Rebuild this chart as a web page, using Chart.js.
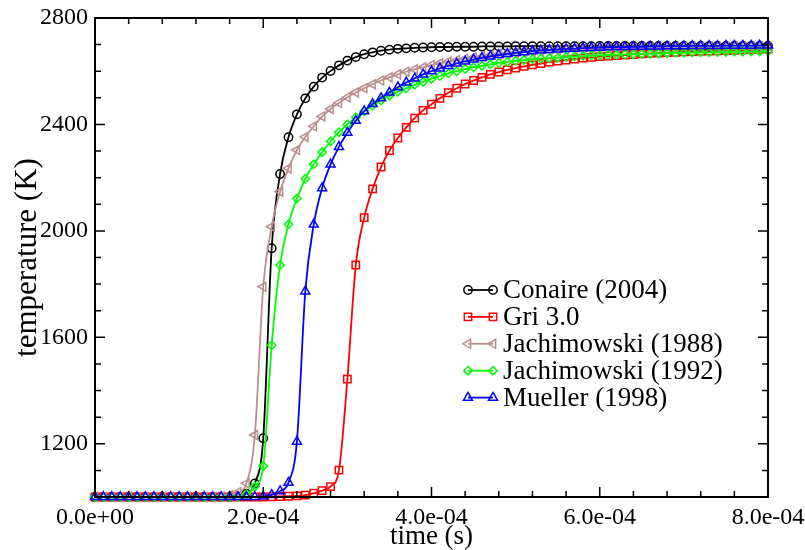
<!DOCTYPE html>
<html>
<head>
<meta charset="utf-8">
<script src="https://cdn.jsdelivr.net/npm/chart.js@4.4.1/dist/chart.umd.min.js"></script>
<style>
  html, body { margin: 0; padding: 0; background: #ffffff; }
  #wrap { width: 805px; height: 550px; }
</style>
</head>
<body>
<div id="wrap"><canvas id="chart" width="805" height="550"></canvas></div>
<script>
// Sample times in microseconds (one marker every 10 us)
const timeMicroseconds = [
  0, 10, 20, 30, 40, 50, 60, 70, 80, 90,
  100, 110, 120, 130, 140, 150, 160, 170, 180, 190,
  200, 210, 220, 230, 240, 250, 260, 270, 280, 290,
  300, 310, 320, 330, 340, 350, 360, 370, 380, 390,
  400, 410, 420, 430, 440, 450, 460, 470, 480, 490,
  500, 510, 520, 530, 540, 550, 560, 570, 580, 590,
  600, 610, 620, 630, 640, 650, 660, 670, 680, 690,
  700, 710, 720, 730, 740, 750, 760, 770, 780, 790,
  800
];

// Temperature (K) for each mechanism
const conaire2004 = [
  1000, 1000, 1000, 1000, 1000, 1000, 1000, 1000, 1000, 1000,
  1000, 1000, 1000, 1000, 1000, 1000, 1000, 1003, 1012, 1051,
  1221, 1935, 2214, 2352, 2438, 2498, 2542, 2576, 2601, 2622,
  2640, 2653, 2664, 2671, 2677, 2681, 2684, 2686, 2688, 2689,
  2690, 2691, 2691, 2692, 2692, 2692, 2693, 2693, 2693, 2693,
  2694, 2694, 2694, 2694, 2694, 2694, 2694, 2694, 2694, 2694,
  2695, 2695, 2695, 2695, 2695, 2695, 2695, 2695, 2695, 2695,
  2695, 2695, 2695, 2695, 2695, 2695, 2695, 2695, 2695, 2695,
  2695
];
const gri30 = [
  1000, 1000, 1000, 1000, 1000, 1000, 1000, 1000, 1000, 1000,
  1000, 1000, 1000, 1000, 1000, 1000, 1000, 1000, 1000, 1000,
  1000, 1001, 1002, 1003, 1004, 1007, 1014, 1024, 1039, 1101,
  1443, 1872, 2050, 2158, 2240, 2302, 2349, 2389, 2424, 2453,
  2476, 2498, 2519, 2536, 2552, 2565, 2577, 2588, 2597, 2605,
  2612, 2618, 2624, 2629, 2634, 2638, 2642, 2646, 2649, 2652,
  2655, 2657, 2659, 2661, 2663, 2665, 2667, 2668, 2670, 2671,
  2673, 2674, 2675, 2676, 2677, 2678, 2679, 2680, 2681, 2682,
  2683
];
const jachimowski1988 = [
  1000, 1000, 1000, 1000, 1000, 1000, 1000, 1000, 1000, 1000,
  1000, 1000, 1000, 1000, 1000, 1002, 1006, 1018, 1051, 1233,
  1790, 2016, 2147, 2235, 2304, 2353, 2393, 2430, 2458, 2481,
  2502, 2520, 2536, 2551, 2565, 2577, 2588, 2598, 2607, 2615,
  2623, 2630, 2636, 2642, 2647, 2652, 2656, 2660, 2664, 2667,
  2670, 2672, 2674, 2676, 2678, 2680, 2681, 2682, 2683, 2684,
  2685, 2686, 2687, 2687, 2688, 2688, 2689, 2689, 2690, 2690,
  2691, 2691, 2691, 2692, 2692, 2692, 2693, 2693, 2693, 2694,
  2694
];
const jachimowski1992 = [
  1000, 1000, 1000, 1000, 1000, 1000, 1000, 1000, 1000, 1000,
  1000, 1000, 1000, 1000, 1000, 1000, 1000, 1000, 1010, 1039,
  1116, 1570, 1872, 2025, 2122, 2196, 2250, 2296, 2337, 2371,
  2400, 2427, 2450, 2471, 2490, 2508, 2523, 2536, 2549, 2560,
  2572, 2582, 2592, 2600, 2608, 2615, 2621, 2626, 2631, 2635,
  2639, 2642, 2645, 2647, 2649, 2651, 2653, 2655, 2657, 2659,
  2660, 2661, 2662, 2663, 2664, 2665, 2666, 2667, 2668, 2669,
  2669, 2670, 2671, 2671, 2672, 2672, 2673, 2673, 2674, 2674,
  2675
];
const mueller1998 = [
  1000, 1000, 1000, 1000, 1000, 1000, 1000, 1000, 1000, 1000,
  1000, 1000, 1000, 1000, 1000, 1000, 1000, 1000, 1000, 1000,
  1002, 1008, 1022, 1054, 1208, 1773, 2024, 2161, 2250, 2316,
  2369, 2414, 2450, 2477, 2499, 2520, 2540, 2558, 2573, 2588,
  2600, 2611, 2620, 2629, 2637, 2644, 2650, 2656, 2661, 2665,
  2669, 2672, 2675, 2678, 2680, 2682, 2684, 2685, 2687, 2688,
  2689, 2690, 2691, 2691, 2692, 2692, 2693, 2693, 2694, 2694,
  2694, 2695, 2695, 2695, 2695, 2696, 2696, 2696, 2696, 2697,
  2697
];

const seriesNames = ['Conaire (2004)', 'Gri 3.0', 'Jachimowski (1988)', 'Jachimowski (1992)', 'Mueller (1998)'];

// Axis tick values
const xMajorTicks = [0, 2e-4, 4e-4, 6e-4, 8e-4];
const yMajorTicks = [1200, 1600, 2000, 2400, 2800];
const xMinorStep = 4e-5;
const yMinorStep = 100;

const FONT = '"Liberation Serif", "Times New Roman", serif';

const styles = [
  { color: '#000000', pointStyle: 'circle',   rotation: 0,   radius: 4.2 },
  { color: '#ff0000', pointStyle: 'rect',     rotation: 0,   radius: 5.2 },
  { color: '#bc8f8f', pointStyle: 'triangle', rotation: 270, radius: 5.2 },
  { color: '#00ff00', pointStyle: 'rectRot',  rotation: 0,   radius: 4.2 },
  { color: '#0000ff', pointStyle: 'triangle', rotation: 0,   radius: 5.2 }
];

const seriesValues = [conaire2004, gri30, jachimowski1988, jachimowski1992, mueller1998];

// Later series are painted over earlier ones
const datasets = seriesValues.map((vals, i) => ({
  label: seriesNames[i],
  data: vals.map((T, k) => ({ x: timeMicroseconds[k] * 1e-6, y: T })),
  borderColor: styles[i].color,
  backgroundColor: 'rgba(0,0,0,0)',
  borderWidth: 1.8,
  pointStyle: styles[i].pointStyle,
  rotation: styles[i].rotation,
  pointRadius: styles[i].radius,
  pointBorderWidth: 1.5,
  pointBorderColor: styles[i].color,
  pointBackgroundColor: 'rgba(0,0,0,0)',
  cubicInterpolationMode: 'monotone',
  clip: false,
  order: seriesValues.length - 1 - i
}));

function sciLabel(v) {
  if (Math.abs(v) < 1e-12) return '0.0e+00';
  const parts = v.toExponential(1).split('e');
  const e = parseInt(parts[1], 10);
  return parts[0] + 'e' + (e < 0 ? '-' : '+') + String(Math.abs(e)).padStart(2, '0');
}

// Frame, inward major/minor ticks on all four sides, and the in-plot legend
const framePlugin = {
  id: 'frameTicksLegend',
  afterDatasetsDraw(chart) {
    const ctx = chart.ctx;
    const a = chart.chartArea;
    const xs = chart.scales.x, ys = chart.scales.y;
    const majorLen = 10, minorLen = 6;
    ctx.save();
    ctx.strokeStyle = '#000';
    ctx.lineWidth = 1.5;
    ctx.beginPath();
    // x ticks
    for (let v = xs.min; v <= xs.max + 1e-12; v += xMinorStep) {
      const isMajor = xMajorTicks.some(m => Math.abs(m - v) < 1e-9);
      const len = isMajor ? majorLen : minorLen;
      const px = xs.getPixelForValue(v);
      ctx.moveTo(px, a.bottom); ctx.lineTo(px, a.bottom - len);
      ctx.moveTo(px, a.top); ctx.lineTo(px, a.top + len);
    }
    // y ticks
    for (let v = ys.min; v <= ys.max + 1e-6; v += yMinorStep) {
      const isMajor = yMajorTicks.indexOf(Math.round(v)) >= 0;
      const len = isMajor ? majorLen : minorLen;
      const py = ys.getPixelForValue(v);
      ctx.moveTo(a.left, py); ctx.lineTo(a.left + len, py);
      ctx.moveTo(a.right, py); ctx.lineTo(a.right - len, py);
    }
    ctx.stroke();
    ctx.lineWidth = 2;
    ctx.strokeRect(a.left, a.top, a.right - a.left, a.bottom - a.top);

    // legend
    const rowY0 = 290, rowStep = 26.9;
    const lineX0 = 468, lineX1 = 493, textX = 503;
    ctx.font = '27px ' + FONT;
    ctx.textBaseline = 'alphabetic';
    ctx.textAlign = 'left';
    chart.data.datasets.forEach((ds, i) => {
      const y = rowY0 + i * rowStep;
      const st = styles[i];
      ctx.strokeStyle = st.color;
      ctx.lineWidth = 1.8;
      ctx.beginPath();
      ctx.moveTo(lineX0, y); ctx.lineTo(lineX1, y);
      ctx.stroke();
      ctx.fillStyle = 'rgba(0,0,0,0)';
      ctx.lineWidth = 1.5;
      [lineX0, lineX1].forEach(px => {
        Chart.helpers.drawPoint(ctx, {
          pointStyle: st.pointStyle, rotation: st.rotation,
          radius: st.radius, borderWidth: 1.5
        }, px, y);
      });
      ctx.fillStyle = '#000';
      ctx.fillText(ds.label, textX, y + 8);
    });
    ctx.restore();
  }
};

new Chart(document.getElementById('chart'), {
  type: 'line',
  data: { datasets },
  plugins: [framePlugin],
  options: {
    responsive: false,
    animation: false,
    devicePixelRatio: 1,
    layout: { padding: { left: 0, right: 37, top: 18, bottom: 0 } },
    plugins: { legend: { display: false }, tooltip: { enabled: false } },
    scales: {
      x: {
        type: 'linear',
        min: 0, max: 8e-4,
        afterBuildTicks: s => { s.ticks = xMajorTicks.map(v => ({ value: v })); },
        afterFit: s => { s.height = 53; s.paddingLeft = 0; s.paddingRight = 0; },
        grid: { display: false, drawTicks: false },
        border: { display: false },
        ticks: {
          autoSkip: false, maxRotation: 0, padding: 6, color: '#000',
          font: { family: FONT, size: 24 },
          callback: v => sciLabel(v)
        },
        title: {
          display: true, text: 'time (s)', color: '#000',
          font: { family: FONT, size: 27, lineHeight: 1 },
          padding: { top: 0, bottom: 0 }
        }
      },
      y: {
        type: 'linear',
        min: 1000, max: 2800,
        afterBuildTicks: s => { s.ticks = yMajorTicks.map(v => ({ value: v })); },
        afterFit: s => { s.width = 95; s.paddingTop = 0; s.paddingBottom = 0; },
        grid: { display: false, drawTicks: false },
        border: { display: false },
        ticks: {
          autoSkip: false, padding: 7, color: '#000',
          font: { family: FONT, size: 24 },
          callback: v => String(v)
        },
        title: {
          display: true, text: 'temperature (K)', color: '#000',
          font: { family: FONT, size: 31, lineHeight: 1 },
          padding: { top: 12, bottom: 0 }
        }
      }
    }
  }
});
</script>
</body>
</html>
